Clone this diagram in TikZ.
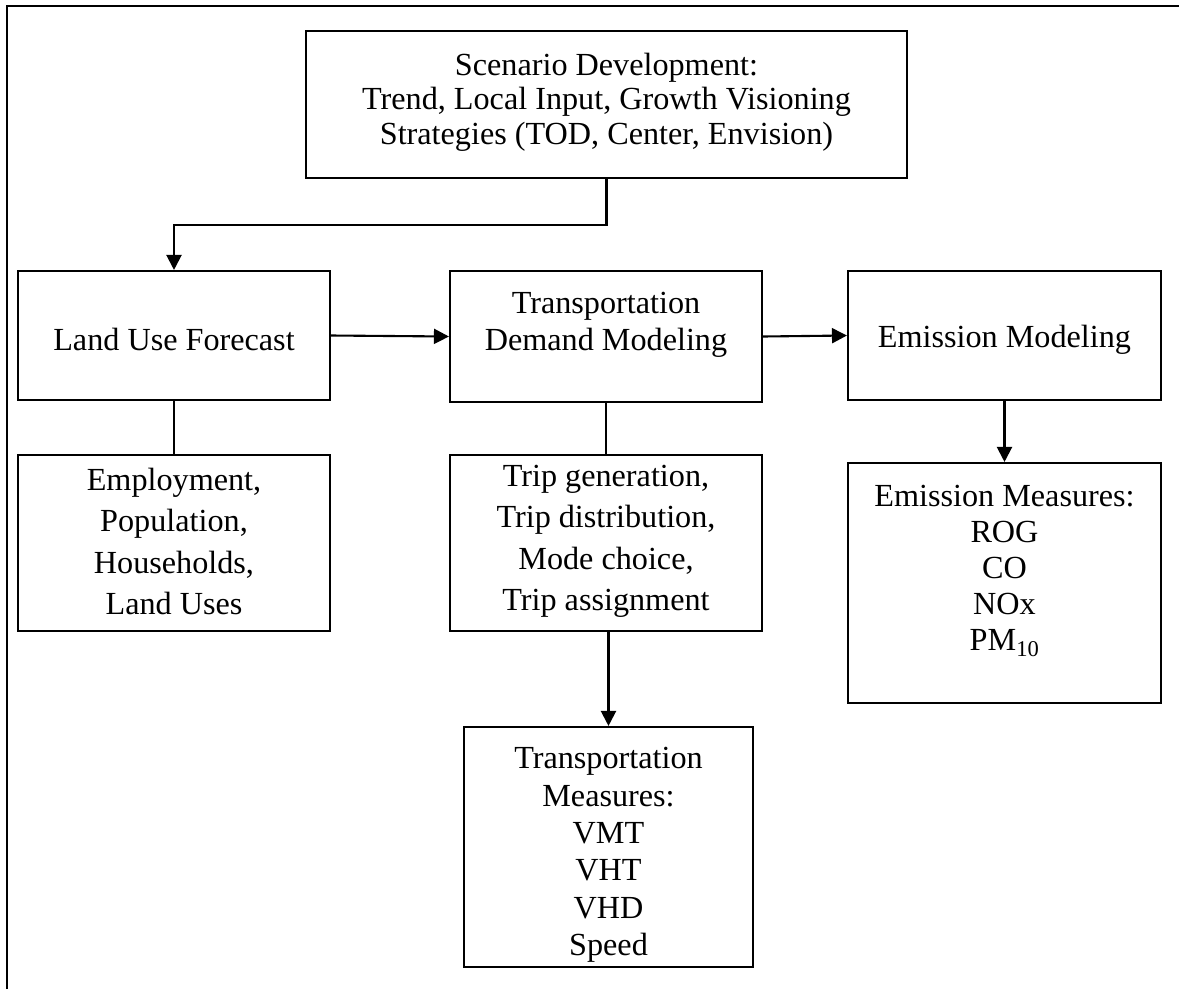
\documentclass[tikz,border=0pt]{standalone}
\usepackage{fontspec}
\setmainfont{Liberation Serif}
\usetikzlibrary{arrows.meta}
\begin{document}
\begin{tikzpicture}[x=1pt,y=-1pt,
  box/.style={draw=black,line width=2.1pt,rectangle,inner sep=0pt},
  txt/.style={align=center,inner sep=0pt,font=\fontsize{32.2}{#1}\selectfont},
  txt/.default={37.5},
  link/.style={line width=2.1pt},
  arr/.style={line width=2.1pt,-{Triangle[length=15pt,width=15pt]}}]
\useasboundingbox (0,0) rectangle (1179,989);
\draw[link] (7,989) -- (7,6) -- (1179,6);
% boxes
\node[box,minimum width=601pt,minimum height=147pt] (sc) at (606.5,104.5) {};
\node[box,minimum width=312pt,minimum height=129pt] (lu) at (174,335.5) {};
\node[box,minimum width=312pt,minimum height=131pt] (tdm) at (606,336.5) {};
\node[box,minimum width=313pt,minimum height=129pt] (em) at (1004.5,335.5) {};
\node[box,minimum width=312pt,minimum height=176pt] (emp) at (174,543) {};
\node[box,minimum width=312pt,minimum height=176pt] (trip) at (606,543) {};
\node[box,minimum width=313pt,minimum height=240pt] (emm) at (1004.5,583) {};
\node[box,minimum width=289pt,minimum height=240pt] (tm) at (608.5,847) {};
% texts
\node[txt=34.5] (sct) at (606.5,102) {Scenario Development:\\Trend, Local Input, Growth Visioning\\Strategies (TOD, Center, Envision)};
\node[txt] (lut) at (174,339) {Land Use Forecast};
\node[txt=37] (tdmt) at (606,325) {Transportation\\Demand Modeling};
\node[txt] (emt) at (1004.5,340) {Emission Modeling};
\node[txt=41.5] (empt) at (174,541.5) {Employment,\\Population,\\Households,\\Land Uses};
\node[txt=41.5] (tript) at (606,541.5) {Trip generation,\\Trip distribution,\\Mode choice,\\Trip assignment};
\node[txt=36] (emmt) at (1004.5,571) {Emission Measures:\\ROG\\CO\\NOx\\PM\textsubscript{10}};
\node[txt=37.4] (tmt) at (608.5,855) {Transportation\\Measures:\\VMT\\VHT\\VHD\\Speed};
% connectors
\coordinate (bend) at (606.5,225);
\draw[arr] (sc.south) -- (bend) -| (lu.north);
\draw[arr] (lu.east) -- (tdm.west);
\draw[arr] (tdm.east) -- (em.west);
\draw[link] (lu.south) -- (emp.north);
\draw[link] (tdm.south) -- (trip.north);
\draw[arr] (em.south) -- (emm.north);
\draw[arr] (trip.south -| tm.north) -- (tm.north);
\end{tikzpicture}
\end{document}
